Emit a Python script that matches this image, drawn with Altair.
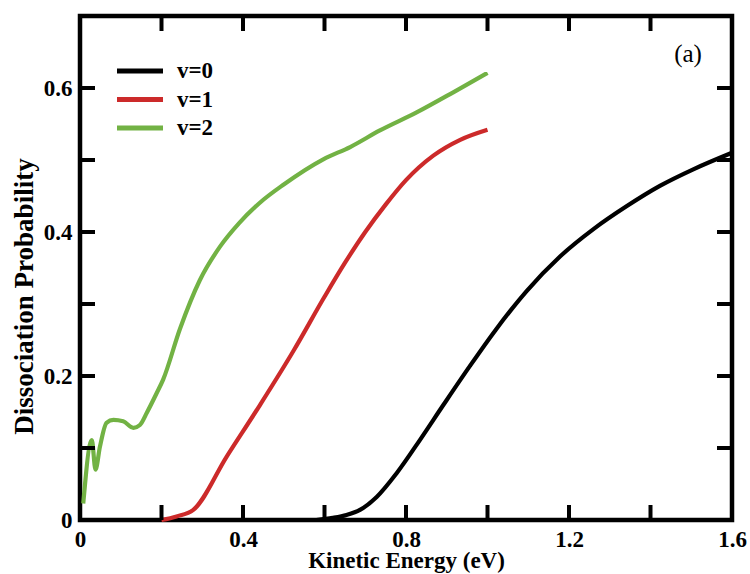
import altair as alt
import pandas as pd

# ---- data ----
v0_x = [0.58, 0.62, 0.654, 0.687, 0.728, 0.777, 0.834, 0.892, 0.957, 1.02, 1.096, 1.178, 1.26, 1.342, 1.423, 1.505, 1.6]
v0_y = [0.0, 0.003, 0.007, 0.014, 0.032, 0.065, 0.111, 0.160, 0.214, 0.264, 0.318, 0.366, 0.404, 0.436, 0.464, 0.487, 0.51]

v1_x = [0.20, 0.237, 0.278, 0.36, 0.442, 0.524, 0.60, 0.65, 0.70, 0.75, 0.80, 0.867, 0.933, 1.0]
v1_y = [0.0, 0.005, 0.014, 0.088, 0.160, 0.235, 0.310, 0.357, 0.400, 0.438, 0.472, 0.506, 0.528, 0.542]

v2_x = [0.008, 0.029, 0.038, 0.049, 0.065, 0.082, 0.106, 0.131, 0.147, 0.164, 0.188, 0.204, 0.245, 0.294, 0.344,
        0.39, 0.44, 0.50, 0.597, 0.663, 0.736, 0.826, 0.916, 1.0]
v2_y = [0.023, 0.111, 0.070, 0.102, 0.135, 0.139, 0.137, 0.128, 0.132, 0.149, 0.176, 0.195, 0.265, 0.333, 0.380,
        0.412, 0.440, 0.466, 0.501, 0.518, 0.541, 0.566, 0.594, 0.621]

series_names = ["v=0", "v=1", "v=2"]
series_colors = ["#000000", "#cc2a2a", "#72b244"]

x_labels = [0, 0.4, 0.8, 1.2, 1.6]
x_ticks = [0.2, 0.4, 0.6, 0.8, 1.0, 1.2, 1.4]
y_labels = [0, 0.2, 0.4, 0.6]
y_ticks = [0.1, 0.2, 0.3, 0.4, 0.5, 0.6]

FONT = "Liberation Serif"
W, H = 652, 504
TICK = 15

rows = []
for name, xs, ys in zip(series_names, [v0_x, v1_x, v2_x], [v0_y, v1_y, v2_y]):
    for a, b in zip(xs, ys):
        rows.append({"x": a, "y": b, "series": name})
df = pd.DataFrame(rows)

xscale = alt.Scale(domain=[0, 1.6], nice=False, zero=False)
yscale = alt.Scale(domain=[0, 0.7], nice=False, zero=False)
lbl = "datum.value == 0 ? '0' : format(datum.value, '.1f')"

xaxis = alt.Axis(
    values=x_labels, labelExpr=lbl, title="Kinetic Energy (eV)", tickSize=0, domain=False, grid=False,
    labelFont=FONT, labelFontSize=23, labelFontWeight="bold", labelColor="black", labelPadding=8,
    labelFlush=False, labelOverlap=False,
    titleFont=FONT, titleFontSize=23, titleFontWeight="bold", titleColor="black",
    titleX=W / 2, titleY=47, titleBaseline="alphabetic", titleAlign="center")
yaxis = alt.Axis(
    values=y_labels, labelExpr=lbl, title="Dissociation Probability", tickSize=0, domain=False, grid=False,
    labelFont=FONT, labelFontSize=23, labelFontWeight="bold", labelColor="black", labelPadding=8,
    labelFlush=False, labelOverlap=False,
    titleFont=FONT, titleFontSize=27, titleFontWeight="bold", titleColor="black",
    titleX=-48, titleY=280, titleBaseline="alphabetic", titleAlign="center", titleAngle=270)

lines = alt.Chart(df).mark_line(strokeWidth=4.2, strokeCap="butt", strokeJoin="round", interpolate="monotone").encode(
    x=alt.X("x:Q", scale=xscale, axis=xaxis),
    y=alt.Y("y:Q", scale=yscale, axis=yaxis),
    color=alt.Color("series:N", scale=alt.Scale(domain=series_names, range=series_colors), legend=None),
    detail="series:N",
)

xt = pd.DataFrame({"x": x_ticks})
yt = pd.DataFrame({"y": y_ticks})
tick_style = dict(color="black", strokeWidth=4)
bottom_ticks = alt.Chart(xt).mark_rule(**tick_style).encode(
    x=alt.X("x:Q", scale=xscale, axis=xaxis), y=alt.value(H), y2=alt.value(H - TICK))
top_ticks = alt.Chart(xt).mark_rule(**tick_style).encode(
    x=alt.X("x:Q", scale=xscale, axis=xaxis), y=alt.value(0), y2=alt.value(TICK))
left_ticks = alt.Chart(yt).mark_rule(**tick_style).encode(
    y=alt.Y("y:Q", scale=yscale, axis=yaxis), x=alt.value(0), x2=alt.value(TICK))
right_ticks = alt.Chart(yt).mark_rule(**tick_style).encode(
    y=alt.Y("y:Q", scale=yscale, axis=yaxis), x=alt.value(W), x2=alt.value(W - TICK))

# manual legend (top-left, inside the frame)
legend_layers = []
for i, (name, col) in enumerate(zip(series_names, series_colors)):
    yy = 55 + i * 28.5
    legend_layers.append(
        alt.Chart(pd.DataFrame({"series": [name]})).mark_rule(color=col, strokeWidth=5).encode(
            x=alt.value(37), x2=alt.value(83), y=alt.value(yy)))
    legend_layers.append(
        alt.Chart(pd.DataFrame({"series": [name]})).mark_text(
            font=FONT, fontSize=23, fontWeight="bold", color="black", align="left", baseline="middle").encode(
            x=alt.value(97), y=alt.value(yy), text="series:N"))

panel = alt.Chart(pd.DataFrame({"t": ["(a)"]})).mark_text(
    font=FONT, fontSize=25, color="black", align="center", baseline="middle").encode(
    x=alt.value(608), y=alt.value(38), text="t:N")

chart = alt.layer(lines, bottom_ticks, top_ticks, left_ticks, right_ticks, *legend_layers, panel).properties(
    width=W, height=H,
    autosize=alt.AutoSizeParams(type="none"),
    padding={"left": 80, "top": 16, "right": 18, "bottom": 54},
    background="white",
).configure_view(stroke="black", strokeWidth=4.5)

chart.save("out.html", embed_options={"renderer": "svg", "actions": False})
